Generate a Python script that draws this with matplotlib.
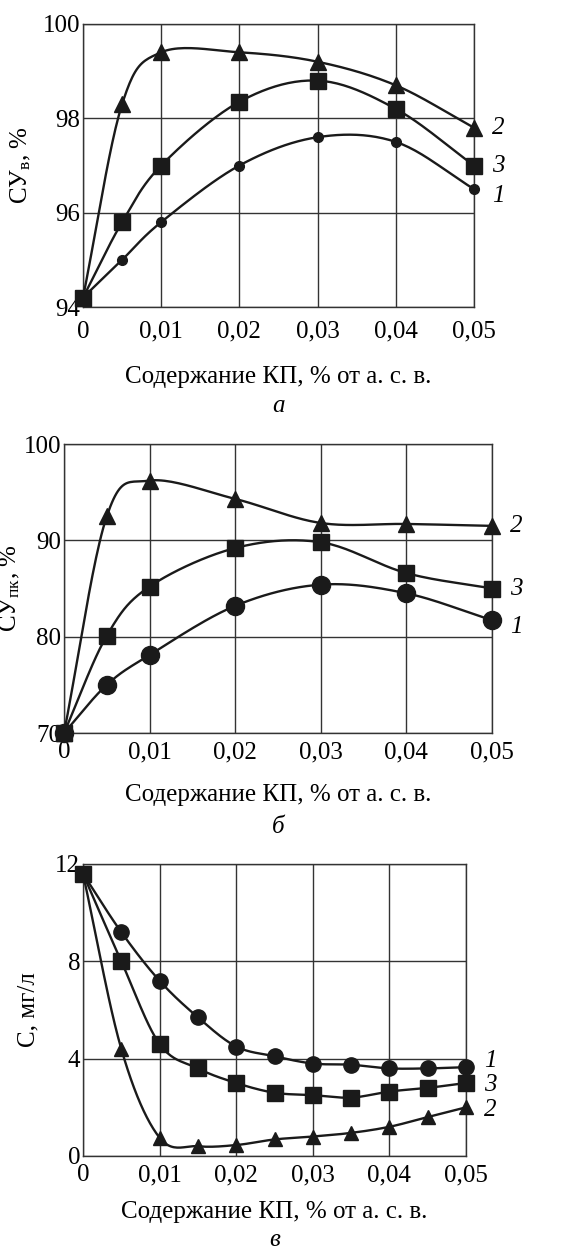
import numpy as np
import matplotlib
matplotlib.use("Agg")
import matplotlib.pyplot as plt

plt.rcParams['font.family'] = ['Liberation Serif', 'DejaVu Serif']
plt.rcParams['mathtext.fontset'] = 'custom'
plt.rcParams['mathtext.rm'] = 'Liberation Serif'
plt.rcParams['mathtext.it'] = 'Liberation Serif:italic'

# --- данные ---
x_ab = [0, 0.005, 0.01, 0.02, 0.03, 0.04, 0.05]
a_1 = [94.2, 95.0, 95.8, 97.0, 97.6, 97.5, 96.5]
a_2 = [94.2, 98.3, 99.4, 99.4, 99.2, 98.7, 97.8]
a_3 = [94.2, 95.8, 97.0, 98.35, 98.8, 98.2, 97.0]

b_1 = [70.0, 75.0, 78.1, 83.2, 85.4, 84.5, 81.7]
b_2 = [70.0, 92.5, 96.2, 94.3, 91.8, 91.7, 91.5]
b_3 = [70.0, 80.1, 85.2, 89.2, 89.8, 86.6, 85.0]

x_c = [0, 0.005, 0.01, 0.015, 0.02, 0.025, 0.03, 0.035, 0.04, 0.045, 0.05]
c_1 = [11.6, 9.2, 7.2, 5.7, 4.5, 4.1, 3.8, 3.75, 3.6, 3.6, 3.65]
c_2 = [11.6, 4.4, 0.75, 0.4, 0.45, 0.68, 0.8, 0.95, 1.2, 1.6, 2.0]
c_3 = [11.6, 8.0, 4.6, 3.6, 3.0, 2.6, 2.5, 2.4, 2.65, 2.8, 3.0]

xticks = [0, 0.01, 0.02, 0.03, 0.04, 0.05]
xticklabels = ['0', '0,01', '0,02', '0,03', '0,04', '0,05']
xlabel = 'Содержание КП, % от а. с. в.'

W, H = 565, 1253
col = '#1a1a1a'
FS = 18


# сглаженная кривая через точки (Catmull-Rom)
def gladkaya(x, y, n=25):
    x = np.asarray(x, float)
    y = np.asarray(y, float)
    px = np.concatenate([[2 * x[0] - x[1]], x, [2 * x[-1] - x[-2]]])
    py = np.concatenate([[2 * y[0] - y[1]], y, [2 * y[-1] - y[-2]]])
    xs, ys = [], []
    t = np.linspace(0, 1, n)
    for i in range(1, len(px) - 2):
        for p, out in ((px, xs), (py, ys)):
            p0, p1, p2, p3 = p[i - 1], p[i], p[i + 1], p[i + 2]
            out.append(0.5 * (2 * p1 + (-p0 + p2) * t
                              + (2 * p0 - 5 * p1 + 4 * p2 - p3) * t ** 2
                              + (-p0 + 3 * p1 - 3 * p2 + p3) * t ** 3))
    return np.concatenate(xs), np.concatenate(ys)


def panel(box, x, series, ylim, yticks, ylab, ylab_x, xlab_y, letter, letter_y, labels, ms, xpad):
    l, t, r, b = box
    ax = fig.add_axes([l / W, 1 - b / H, (r - l) / W, (b - t) / H])
    for y, m, s in zip(series, ['o', '^', 's'], ms):
        sx, sy = gladkaya(x, y)
        ax.plot(sx, sy, color=col, lw=1.7, zorder=3, clip_on=False)
        ax.plot(x, y, ls='none', marker=m, ms=s, color=col, zorder=4, clip_on=False)
    ax.set_xlim(0, 0.05)
    ax.set_ylim(*ylim)
    ax.set_xticks(xticks)
    ax.set_xticklabels(xticklabels)
    ax.set_yticks(yticks)
    ax.grid(True, color='#333333', lw=1.0)
    ax.tick_params(length=0, labelsize=FS, pad=2)
    ax.tick_params(axis='x', pad=xpad)
    for sp in ax.spines.values():
        sp.set_color('#333333')
        sp.set_linewidth(1.0)
    fig.text(ylab_x / W, 1 - (t + b) / 2 / H, ylab, rotation=90,
             ha='center', va='center', fontsize=FS)
    fig.text((l + r) / 2 / W, 1 - xlab_y / H, xlabel, ha='center', va='center', fontsize=FS)
    fig.text((l + r) / 2 / W, 1 - letter_y / H, letter,
             ha='center', va='center', fontsize=FS, style='italic')
    for txt, yv in labels:
        ax.annotate(txt, (0.05, yv), xytext=(13, 0), textcoords='offset points',
                    ha='left', va='center', fontsize=FS, style='italic')
    return ax


fig = plt.figure(figsize=(W / 100, H / 100), dpi=100)

panel((83, 24, 474, 307), x_ab, [a_1, a_2, a_3], (94, 100), [94, 96, 98, 100],
      'СУ$_\\mathregular{в}$, %', 21, 377, 'а', 406,
      [('2', 97.8), ('3', 97.0), ('1', 96.35)], [7, 11, 12], 10)

panel((64, 444, 492, 733), x_ab, [b_1, b_2, b_3], (70, 100), [70, 80, 90, 100],
      'СУ$_\\mathregular{пк}$, %', 10, 795, 'б', 827,
      [('2', 91.5), ('3', 85.0), ('1', 81.0)], [13, 11, 12], 6)

panel((83, 864, 466, 1156), x_c, [c_1, c_2, c_3], (0, 12), [0, 4, 8, 12],
      'С, мг/л', 28, 1212, 'в', 1240,
      [('1', 3.9), ('3', 2.9), ('2', 1.9)], [11, 10, 11.5], 6)

fig.savefig('out.png', dpi=100)
